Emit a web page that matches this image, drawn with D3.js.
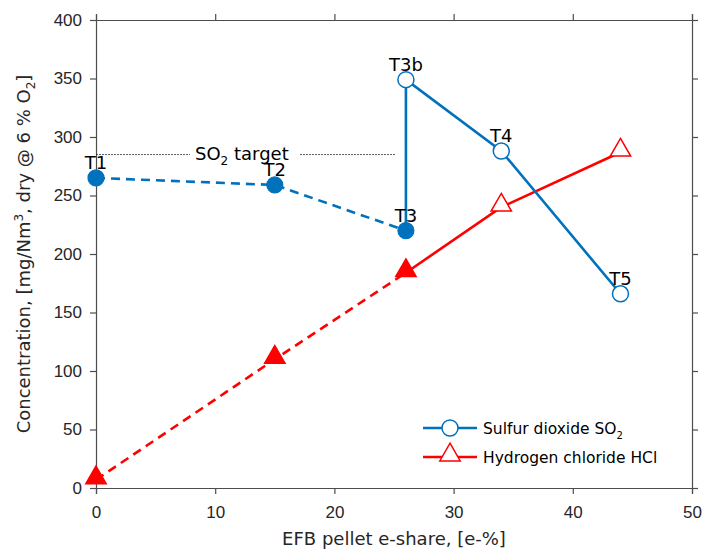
<!DOCTYPE html>
<html>
<head>
<meta charset="utf-8">
<script src="https://cdn.jsdelivr.net/npm/d3@7"></script>
<style>
  body { margin: 0; background: #fff; }
  svg { font-family: "DejaVu Sans", Verdana, sans-serif; }
</style>
</head>
<body>
<svg id="chart" width="706" height="550"></svg>
<script>
// SO2 points (x = e-share, y = concentration)
const so2Dashed = [[0, 265], [15, 259], [26, 220]];
const so2Solid = [[26, 220], [26, 349], [34, 288], [44, 166]];
const so2Filled = [[0, 265], [15, 259], [26, 220]];
const so2Open = [[26, 349], [34, 288], [44, 166]];
const so2Labels = ['T1', 'T2', 'T3', 'T3b', 'T4', 'T5'];
const so2LabelPts = [[0, 265], [15, 259], [26, 220], [26, 349], [34, 288], [44, 166]];

// HCl points
const hclDashed = [[0, 7], [15, 110], [26, 184]];
const hclSolid = [[26, 184], [34, 240], [44, 287]];
const hclFilled = [[0, 7], [15, 110], [26, 184]];
const hclOpen = [[34, 240], [44, 287]];

const so2Target = 285;
const targetRange = [0, 25.1];
const xTicks = [0, 10, 20, 30, 40, 50];
const yTicks = [0, 50, 100, 150, 200, 250, 300, 350, 400];

const blue = '#0072BD';
const red = '#FF0000';
const axisCol = '#4d4d4d';
const textCol = '#262626';

const svg = d3.select('#chart');
const margin = { left: 96, top: 20, right: 14, bottom: 62 };
const W = 706, H = 550;

const x = d3.scaleLinear().domain([0, 50]).range([margin.left, W - margin.right]);
const y = d3.scaleLinear().domain([0, 400]).range([H - margin.bottom, margin.top]);

// axes box
const gx = svg.append('g').attr('transform', `translate(0,${y(0)})`)
  .call(d3.axisBottom(x).tickValues(xTicks).tickSize(6).tickPadding(12));
const gxTop = svg.append('g').attr('transform', `translate(0,${y(400)})`)
  .call(d3.axisTop(x).tickValues(xTicks).tickSize(6).tickFormat(''));
const gy = svg.append('g').attr('transform', `translate(${x(0)},0)`)
  .call(d3.axisLeft(y).tickValues(yTicks).tickSize(6).tickPadding(8));
const gyR = svg.append('g').attr('transform', `translate(${x(50)},0)`)
  .call(d3.axisRight(y).tickValues(yTicks).tickSize(6).tickFormat(''));

[gx, gxTop, gy, gyR].forEach(g => {
  g.select('.domain').attr('stroke', axisCol).attr('stroke-width', 1.2);
  g.selectAll('.tick line').attr('stroke', axisCol).attr('stroke-width', 1.2);
  g.selectAll('.tick text').attr('fill', textCol).style('font-size', '17px');
});

// axis labels
svg.append('text')
  .attr('x', (x(0) + x(50)) / 2).attr('y', 545)
  .attr('text-anchor', 'middle').attr('fill', textCol).style('font-size', '18px')
  .text('EFB pellet e-share, [e-%]');

const yl = svg.append('text')
  .attr('transform', `translate(30,${(y(0) + y(400)) / 2}) rotate(-90)`)
  .attr('text-anchor', 'middle').attr('fill', textCol).style('font-size', '18px');
yl.append('tspan').text('Concentration, [mg/Nm');
yl.append('tspan').attr('dy', -7).style('font-size', '12px').text('3');
yl.append('tspan').attr('dy', 7).text(', dry @ 6 % O');
yl.append('tspan').attr('dy', 5).style('font-size', '12px').text('2');
yl.append('tspan').attr('dy', -5).text(']');

// SO2 target line with text gap
const tY = y(so2Target);
svg.append('line').attr('x1', x(targetRange[0])).attr('x2', 190)
  .attr('y1', tY).attr('y2', tY)
  .attr('stroke', '#333').attr('stroke-width', 0.8).attr('stroke-dasharray', '2,1');
svg.append('line').attr('x1', 300).attr('x2', x(targetRange[1]))
  .attr('y1', tY).attr('y2', tY)
  .attr('stroke', '#333').attr('stroke-width', 0.8).attr('stroke-dasharray', '2,1');
const tt = svg.append('text').attr('x', 195).attr('y', tY + 5)
  .attr('fill', '#000').style('font-size', '18px');
tt.append('tspan').text('SO');
tt.append('tspan').attr('dy', 5).style('font-size', '12px').text('2');
tt.append('tspan').attr('dy', -5).text(' target');

const line = d3.line().x(d => x(d[0])).y(d => y(d[1]));

// lines
svg.append('path').datum(hclDashed).attr('d', line).attr('fill', 'none')
  .attr('stroke', red).attr('stroke-width', 2.6).attr('stroke-dasharray', '9,6');
svg.append('path').datum(hclSolid).attr('d', line).attr('fill', 'none')
  .attr('stroke', red).attr('stroke-width', 2.6);
svg.append('path').datum(so2Dashed).attr('d', line).attr('fill', 'none')
  .attr('stroke', blue).attr('stroke-width', 2.6).attr('stroke-dasharray', '9,6');
svg.append('path').datum(so2Solid).attr('d', line).attr('fill', 'none')
  .attr('stroke', blue).attr('stroke-width', 2.6);

// markers
const tri = d3.symbol().type(d3.symbolTriangle).size(180);
function triangles(data, filled) {
  svg.selectAll(null).data(data).join('path')
    .attr('d', tri)
    .attr('transform', d => `translate(${x(d[0])},${y(d[1]) - 2})`)
    .attr('fill', filled ? red : '#fff')
    .attr('stroke', red).attr('stroke-width', 1.5);
}
triangles(hclFilled, true);
triangles(hclOpen, false);

svg.selectAll(null).data(so2Filled).join('circle')
  .attr('cx', d => x(d[0])).attr('cy', d => y(d[1])).attr('r', 8)
  .attr('fill', blue).attr('stroke', blue).attr('stroke-width', 1.2);
svg.selectAll(null).data(so2Open).join('circle')
  .attr('cx', d => x(d[0])).attr('cy', d => y(d[1])).attr('r', 8)
  .attr('fill', '#fff').attr('stroke', blue).attr('stroke-width', 1.5);

// point labels
svg.selectAll(null).data(so2LabelPts).join('text')
  .attr('x', d => x(d[0])).attr('y', d => y(d[1]) - 9)
  .attr('text-anchor', 'middle').attr('fill', '#000').style('font-size', '18px')
  .text((d, i) => so2Labels[i]);

// legend
const leg = svg.append('g').attr('transform', 'translate(423,428)');
leg.append('line').attr('x1', 0).attr('x2', 54).attr('stroke', blue).attr('stroke-width', 2.6);
leg.append('circle').attr('cx', 27).attr('r', 8).attr('fill', '#fff')
  .attr('stroke', blue).attr('stroke-width', 1.5);
const l1 = leg.append('text').attr('x', 60).attr('y', 6).attr('fill', '#000').style('font-size', '15.5px');
l1.append('tspan').text('Sulfur dioxide SO');
l1.append('tspan').attr('dy', 5).style('font-size', '10px').text('2');

leg.append('line').attr('x1', 0).attr('x2', 54).attr('y1', 29).attr('y2', 29)
  .attr('stroke', red).attr('stroke-width', 2.6);
leg.append('path').attr('d', tri).attr('transform', 'translate(27,27)')
  .attr('fill', '#fff').attr('stroke', red).attr('stroke-width', 1.5);
leg.append('text').attr('x', 60).attr('y', 35).attr('fill', '#000').style('font-size', '15.5px')
  .text('Hydrogen chloride HCl');
</script>
</body>
</html>
